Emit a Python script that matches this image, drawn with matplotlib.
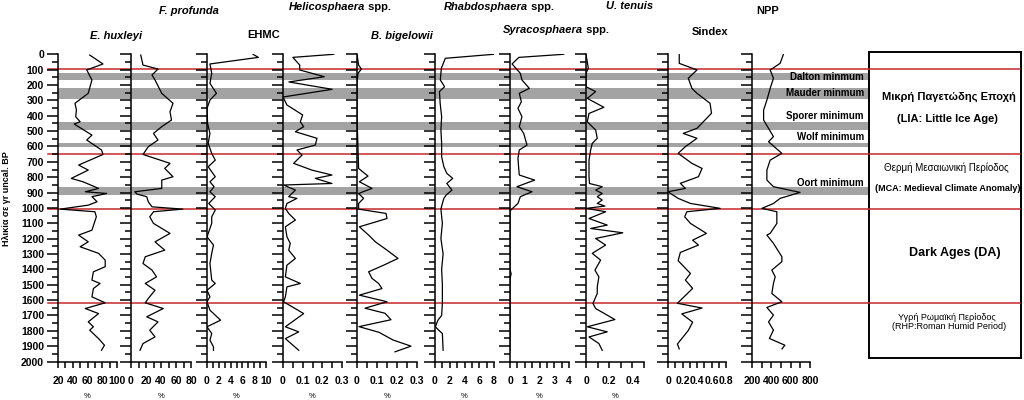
import matplotlib.pyplot as plt
from matplotlib.patches import Rectangle
from matplotlib.ticker import MultipleLocator, FuncFormatter

plt.rcParams['font.family'] = ['Liberation Sans', 'DejaVu Sans']
plt.rcParams['font.weight'] = 'bold'

# depth in yr uncal. BP, value of each proxy
ehux_depth = [5, 63, 102, 167, 254, 319, 363, 406, 439, 454, 526, 558, 623, 652, 721, 754, 808, 830,
              873, 895, 906, 927, 960, 982, 1008, 1025, 1058, 1145, 1177, 1221, 1253, 1296, 1340, 1383,
              1416, 1470, 1492, 1525, 1579, 1618, 1655, 1688, 1742, 1774, 1796, 1851, 1894, 1927]
ehux_val = [63, 81, 59, 66, 61, 43, 45, 44, 50, 42, 66, 59, 79, 81, 48, 61, 38, 54,
            75, 57, 86, 66, 73, 61, 23, 70, 72, 66, 48, 61, 50, 75, 84, 84,
            68, 66, 77, 68, 66, 84, 57, 75, 61, 68, 63, 75, 83, 79]

fprof_depth = [5, 70, 96, 135, 167, 254, 319, 374, 428, 471, 515, 558, 602, 652, 710, 743, 797, 819,
               873, 895, 910, 927, 960, 993, 1008, 1025, 1058, 1101, 1166, 1221, 1275, 1318, 1362, 1405,
               1449, 1492, 1536, 1590, 1618, 1655, 1709, 1742, 1796, 1840, 1883, 1927]
fprof_val = [13, 16, 36, 28, 32, 41, 56, 52, 54, 41, 30, 36, 23, 16, 52, 45, 56, 41,
             41, 5, 8, 21, 23, 28, 69, 30, 25, 30, 52, 32, 45, 19, 16, 28,
             34, 19, 32, 23, 19, 43, 21, 36, 25, 32, 16, 12]

ehmc_depth = [0, 20, 63, 124, 189, 254, 298, 352, 450, 515, 580, 645, 689, 732, 797, 830, 862, 895,
              927, 971, 1014, 1058, 1101, 1188, 1242, 1296, 1362, 1470, 1492, 1536, 1579, 1611, 1666,
              1731, 1774, 1818, 1861, 1905, 1927]
ehmc_val = [7.8, 8.7, 0.5, 0.8, 0.5, 1.6, 0.5, 0.0, 0.1, 0.5, 0.2, 0.8, 1.4, 0.2, 1.4, 0.5, 1.2, 0.5,
            1.4, 0.3, 1.4, 0.8, 0.8, 0.0, 1.1, 0.8, 0.5, 0.8, 1.4, 0.0, 0.5, 0.0, 0.5,
            2.3, 0.0, 0.8, 0.5, 1.1, 1.1]

heli_depth = [0, 20, 70, 102, 146, 180, 228, 278, 330, 395, 439, 471, 504, 547, 591, 623, 656, 710,
              754, 786, 808, 841, 851, 884, 927, 938, 971, 1003, 1036, 1079, 1123, 1188, 1231, 1275,
              1329, 1373, 1449, 1492, 1514, 1579, 1611, 1688, 1774, 1807, 1851, 1927]
heli_val = [0.258, 0.05, 0.085, 0.085, 0.21, 0.03, 0.25, 0.0, 0.02, 0.1, 0.088, 0.105, 0.063, 0.173,
            0.164, 0.071, 0.097, 0.054, 0.147, 0.249, 0.164, 0.249, 0.003, 0.063, 0.029, 0.071, 0.02,
            0.012, 0.029, 0.063, 0.012, 0.02, 0.037, 0.029, 0.063, 0.02, 0.012, 0.088, 0.02, 0.012,
            0.003, 0.105, 0.012, 0.08, 0.012, 0.08]

bbig_depth = [0, 70, 96, 124, 189, 400, 743, 793, 830, 873, 906, 938, 971, 1008, 1036, 1069, 1123,
              1177, 1221, 1275, 1329, 1373, 1416, 1459, 1492, 1525, 1568, 1611, 1653, 1686, 1728, 1773,
              1810, 1860, 1900, 1937]
bbig_val = [0.0, 0.008, 0.022, 0.005, 0.0, 0.0, 0.008, 0.055, 0.012, 0.075, 0.008, 0.033, 0.008,
            0.008, 0.145, 0.15, 0.012, 0.058, 0.092, 0.15, 0.205, 0.133, 0.058, 0.075, 0.108, 0.125,
            0.012, 0.15, 0.04, 0.14, 0.17, 0.01, 0.11, 0.18, 0.27, 0.19]

rhab_depth = [0, 26, 91, 167, 211, 243, 319, 406, 493, 580, 667, 732, 775, 808, 841, 884, 917, 938,
              971, 1008, 1100, 1200, 1300, 1400, 1500, 1620, 1700, 1731, 1774, 1796, 1818, 1927]
rhab_val = [7.95, 1.4, 0.86, 0.72, 1.3, 0.6, 0.7, 0.9, 0.8, 0.9, 0.9, 1.2, 1.6, 2.4, 1.6, 2.3, 1.5,
            1.2, 1.0, 0.8, 1.0, 0.8, 1.1, 0.9, 1.0, 1.0, 0.9, 0.4, 0.05, 0.5, 1.0, 1.1]

syra_depth = [0, 20, 63, 124, 167, 222, 254, 309, 352, 406, 471, 515, 591, 623, 678, 743, 786, 819,
              862, 895, 927, 971, 1014, 1030, 1400, 1430, 1460, 1927]
syra_val = [3.64, 0.6, 0.14, 0.7, 0.81, 1.31, 0.63, 0.77, 0.54, 0.81, 0.63, 0.93, 1.15, 0.63, 0.54,
            0.59, 0.63, 1.67, 0.47, 1.49, 0.7, 0.54, 0.05, 0.0, 0.0, 0.08, 0.0, 0.0]

uten_depth = [0, 91, 124, 211, 243, 287, 345, 385, 439, 493, 547, 580, 623, 689, 797, 841, 862, 884,
              906, 927, 949, 971, 988, 1003, 1025, 1069, 1112, 1134, 1162, 1199, 1242, 1296, 1340,
              1405, 1449, 1514, 1557, 1622, 1655, 1727, 1774, 1807, 1840, 1883, 1927]
uten_val = [0.0, 0.02, 0.0, 0.0, 0.083, 0.011, 0.154, 0.026, 0.011, 0.083, 0.097, 0.054, 0.04, 0.026,
            0.026, 0.03, 0.14, 0.083, 0.14, 0.097, 0.14, 0.097, 0.163, 0.003, 0.169, 0.026, 0.183,
            0.04, 0.317, 0.083, 0.169, 0.054, 0.126, 0.077, 0.111, 0.097, 0.097, 0.06, 0.083, 0.249,
            0.011, 0.183, 0.026, 0.111, 0.14]

sindex_depth = [0, 59, 102, 156, 222, 254, 319, 384, 438, 482, 515, 547, 601, 645, 710, 743, 797, 840,
                873, 895, 938, 971, 1003, 1025, 1058, 1101, 1166, 1210, 1242, 1290, 1344, 1427, 1470,
                1524, 1621, 1652, 1690, 1744, 1798, 1886, 1918]
sindex_val = [0.155, 0.155, 0.40, 0.28, 0.33, 0.40, 0.58, 0.60, 0.49, 0.40, 0.21, 0.40, 0.24, 0.14,
              0.33, 0.47, 0.42, 0.17, 0.24, 0.0, 0.14, 0.31, 0.72, 0.26, 0.23, 0.31, 0.53, 0.34, 0.42,
              0.17, 0.14, 0.31, 0.24, 0.34, 0.13, 0.47, 0.19, 0.34, 0.28, 0.13, 0.155]

npp_depth = [0, 59, 102, 156, 222, 298, 363, 428, 482, 536, 569, 645, 689, 754, 819, 862, 899, 938,
             971, 1003, 1025, 1101, 1166, 1177, 1231, 1318, 1350, 1405, 1448, 1492, 1557, 1611, 1648,
             1698, 1742, 1796, 1850, 1894, 1918]
npp_val = [525, 491, 388, 422, 388, 354, 320, 320, 371, 422, 371, 509, 388, 354, 354, 422, 697, 491,
           422, 303, 457, 457, 388, 354, 422, 509, 509, 405, 440, 422, 405, 509, 354,
           422, 371, 422, 380, 540, 510]

# solar minima (grey bands) and climate period boundaries (red lines)
minima = ['Dalton minmum', 'Mauder minmum', 'Sporer minimum', 'Wolf minimum', 'Oort minimum']
minima_top = [123, 221, 441, 578, 864]
minima_bottom = [169, 292, 493, 604, 916]
minima_label = [146, 250, 403, 537, 837]
boundaries = [97, 652, 1008, 1618]

W, H = 1024, 400
fig = plt.figure(figsize=(W / 100, H / 100), dpi=100)
ax_bottom = 1 - 361.5 / H
ax_height = (361.5 - 54.3) / H

bg = fig.add_axes([0, ax_bottom, 1, ax_height], zorder=0)
bg.set_xlim(0, W)
bg.set_ylim(2000, 0)
bg.axis('off')
for top, bot in zip(minima_top, minima_bottom):
    bg.axhspan(top, bot, xmin=58 / W, xmax=868 / W, color='#a3a3a3', lw=0)
for d in boundaries:
    bg.axhline(d, xmin=48 / W, xmax=1020 / W, color='#c62828', lw=1.1, zorder=3)
for name, d in zip(minima, minima_label):
    bg.text(864, d, name, ha='right', va='center', fontsize=7)

bg.add_patch(Rectangle((869, -13), 152, 1991, fill=False, ec='black', lw=1.4, clip_on=False))
bg.text(949, 276, 'Μικρή Παγετώδης Εποχή', ha='center', va='center', fontsize=8)
bg.text(947, 421, '(LIA: Little Ice Age)', ha='center', va='center', fontsize=8)
bg.text(946, 741, 'Θερμή Μεσαιωνική Περίοδος', ha='center', va='center', fontsize=7, fontweight='normal')
bg.text(948, 871, '(MCA: Medieval Climate Anomaly)', ha='center', va='center', fontsize=6.5)
bg.text(955, 1294, 'Dark Ages (DA)', ha='center', va='center', fontsize=9)
bg.text(947, 1711, 'Υγρή Ρωμαϊκή Περίοδος', ha='center', va='center', fontsize=6.5, fontweight='normal')
bg.text(949, 1772, '(RHP:Roman Humid Period)', ha='center', va='center', fontsize=6.5, fontweight='normal')

# depth, values, left px, width px, xlim, major step, minor step, % label
panels = [
    (ehux_depth, ehux_val, 58, 59, (20, 100), 20, 10, True),
    (fprof_depth, fprof_val, 131, 60, (0, 80), 20, 10, True),
    (ehmc_depth, ehmc_val, 207, 59, (0, 10), 2, 1, True),
    (heli_depth, heli_val, 283, 59, (0, 0.3), 0.1, 0.05, True),
    (bbig_depth, bbig_val, 357, 60, (0, 0.3), 0.1, 0.05, True),
    (rhab_depth, rhab_val, 435, 59, (0, 8), 2, 1, True),
    (syra_depth, syra_val, 510, 59, (0, 4), 1, 0.5, True),
    (uten_depth, uten_val, 586, 58, (0, 0.5), 0.2, 0.1, True),
    (sindex_depth, sindex_val, 668, 58, (0, 0.8), 0.2, 0.1, False),
    (npp_depth, npp_val, 752, 58, (200, 800), 200, 100, False),
]

for i, (d, v, left, width, xlim, major, minor, pct) in enumerate(panels):
    ax = fig.add_axes([left / W, ax_bottom, width / W, ax_height], zorder=1)
    ax.patch.set_visible(False)
    ax.plot(v, d, color='black', lw=0.9)
    ax.set_xlim(xlim)
    ax.set_ylim(2000, 0)
    ax.spines['top'].set_visible(False)
    ax.spines['right'].set_visible(False)
    ax.spines['left'].set_linewidth(1.1)
    ax.spines['bottom'].set_linewidth(1.1)
    ax.yaxis.set_major_locator(MultipleLocator(100))
    ax.yaxis.set_minor_locator(MultipleLocator(50))
    ax.xaxis.set_major_locator(MultipleLocator(major))
    ax.xaxis.set_minor_locator(MultipleLocator(minor))
    ax.xaxis.set_major_formatter(FuncFormatter(lambda x, p: f'{x:g}'))
    ax.tick_params(axis='y', which='major', length=8, width=1.1, labelsize=7.5, pad=2,
                   labelleft=(i == 0))
    ax.tick_params(axis='y', which='minor', length=4.5, width=1.1)
    ax.tick_params(axis='x', which='both', length=4.5, width=1.1, labelsize=7.5, pad=6)
    if pct:
        ax.set_xlabel('%', fontsize=5.5, fontweight='normal', labelpad=5)

renderer = fig.canvas.get_renderer()


def title(cx, cy, italic, plain=''):
    y = 1 - cy / H
    t1 = fig.text(0, y, italic, ha='left', va='center', fontsize=8,
                  style='italic' if plain is not None else 'normal')
    t2 = fig.text(0, y, plain or '', ha='left', va='center', fontsize=8)
    w1 = t1.get_window_extent(renderer).width
    w2 = t2.get_window_extent(renderer).width if plain else 0
    x0 = cx - (w1 + w2) / 2
    t1.set_x(x0 / W)
    t2.set_x((x0 + w1) / W)


title(116, 36, 'E. huxleyi')
title(189, 11, 'F. profunda')
title(264, 35, 'EHMC', None)
title(340, 7, 'Helicosphaera', ' spp.')
title(402, 36, 'B. bigelowii')
title(499, 7, 'Rhabdosphaera', ' spp.')
title(556, 30, 'Syracosphaera', ' spp.')
title(630, 6, 'U. tenuis')
title(710, 32, 'Sindex', None)
title(768, 11, 'NPP', None)

fig.text(7 / W, 1 - 199 / H, 'Ηλικία σε γr uncal. BP', rotation=90, ha='center', va='center',
         fontsize=6.5)

fig.savefig('out.png', dpi=100)
